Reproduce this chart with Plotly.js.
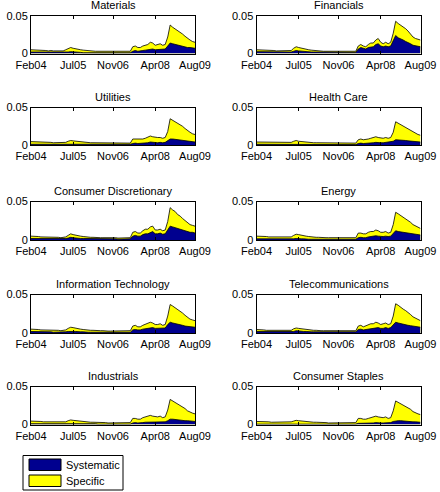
<!DOCTYPE html>
<html>
<head>
<meta charset="utf-8">
<script src="https://cdn.plot.ly/plotly-3.0.1.min.js"></script>
<style>html,body{margin:0;padding:0;background:#fff;}#chart{width:440px;height:492px;}</style>
</head>
<body>
<div id="chart"></div>
<script>
// Values in thousandths (x 0.001), monthly Feb 2004 .. Aug 2009
const UNIT = 0.001;
const nMonths = 67;
const tickDates = ['2004-02-01', '2005-07-01', '2006-11-01', '2008-04-01', '2009-08-01'];
const tickLabels = ['Feb04', 'Jul05', 'Nov06', 'Apr08', 'Aug09'];
const seriesNames = ['Systematic', 'Specific'];
const sectors = ['Materials', 'Financials', 'Utilities', 'Health Care', 'Consumer Discretionary',
  'Energy', 'Information Technology', 'Telecommunications', 'Industrials', 'Consumer Staples'];

// total risk (systematic + specific)
const totalMaterials = [5,5,5,5,4.5,4,4,3.5,4,3.5,3.5, 3.5,3,3.5,5,7,8,7,6,5.5,5,4.5,4, 4,3.5,3.5,3,3,3,2.5,2.5,2.5,2.5,2.5,2.5, 2.5,2.5,3,2.5,2.5,3,9,10,8,8,10,11, 12,15,14,11,12,13,11,12,22,38,35,33, 30,29,26,23,20,18,16,15];
const sysMaterials = [2,2,2,2,1.5,1.5,1.5,1,1.5,1,1, 1,1,1,1.5,2,2.5,2,1.5,1.5,1.5,1,1, 1,1,1,1,1,1,1,1,1,1,1,1, 1,1,1,1,1,1,3,4,3,3,4,4.5, 5,6,6,5,5,6,5,6,10,14,13,12, 11,10,10,9,8,8,7.5,7];

const totalFinancials = [5,5,5,5,4.5,4,4,4,3.5,3.5,3.5, 3.5,3.5,3.5,4,7,9,8,7,6,5.5,5,4.5, 4,4,3.5,3.5,3,3,3,2.5,2.5,2.5,3,3, 2.5,2.5,3,2.5,2.5,3,10,12,10,9,12,14, 14,18,20,15,13,15,13,15,27,43,40,38, 35,33,30,26,22,20,19,18];
const sysFinancials = [2.5,2.5,2.5,2.5,2,2,2,2,2,1.5,1.5, 1.5,1.5,1.5,2,3,4,3.5,3,2.5,2.5,2,2, 2,2,1.5,1.5,1.5,1.5,1.5,1,1,1,1.5,1.5, 1,1,1.5,1,1,1.5,6,8,7,6,8,9, 9,12,13,10,9,10,9,10,18,24,21,20, 18,16,15,13,11,10,10,9];

const totalUtilities = [4.5,4.5,4.5,4,4,3.5,3.5,3.5,3.5,3,3, 3,3,3,3.5,5,6,5.5,5,4.5,4,4,3.5, 3.5,3,3,3,2.5,2.5,2.5,2.5,2,2,2,2, 2,2,2.5,2,2,2.5,8,8,7,7,8,9, 10,12,11,10,10,10,9,10,18,35,33,31, 29,27,25,22,19,17,15,14];
const sysUtilities = [1,1,1,1,1,1,1,1,1,1,1, 1,1,1,1,1.5,1.5,1.5,1,1,1,1,1, 1,1,1,1,1,1,1,1,0.5,0.5,0.5,0.5, 0.5,0.5,1,0.5,0.5,1,2,2.5,2,2,2.5,3, 3,4,3.5,3,3,3.5,3,3.5,6,8,8,7.5, 7,6.5,6,5.5,5,5,4.5,4];

const totalHealthCare = [4,4,4,3.5,3.5,3.5,3,3,3,3,3, 3,3,3,3.5,5,6,5,4.5,4,4,3.5,3.5, 3,3,3,2.5,2.5,2.5,2,2,2,2,2,2, 2,2,2.5,2,2,2.5,7,8,7,7,8,9, 10,11,10,9,9,10,9,10,17,31,29,27, 26,24,22,20,18,16,14,13];
const sysHealthCare = [1,1,1,1,1,1,1,1,1,1,1, 1,1,1,1,1,1.5,1,1,1,1,1,1, 0.5,0.5,0.5,0.5,0.5,0.5,0.5,0.5,0.5,0.5,0.5,0.5, 0.5,0.5,0.5,0.5,0.5,0.5,2,2.5,2,2,2.5,3, 3,3.5,3,3,3,3.5,3,3.5,5,7,7,6.5, 6,6,5.5,5,4.5,4.5,4,4];

const totalConsDisc = [5,5,5,4.5,4,4,4,3.5,3.5,3.5,3.5, 3.5,3,3.5,4,6,8,7,6,5.5,5,4.5,4, 4,3.5,3.5,3,3,3,3,3,3,3.5,3,3, 2.5,2.5,3,2.5,2.5,3,10,11,9,9,12,14, 14,17,18,13,13,14,12,13,24,42,39,37, 33,31,28,25,22,20,19,18];
const sysConsDisc = [2,2,2,2,1.5,1.5,1.5,1.5,1.5,1.5,1.5, 1.5,1.5,1.5,2,2.5,3.5,3,2.5,2.5,2,2,2, 2,1.5,1.5,1.5,1.5,1.5,1.5,1.5,1.5,1.5,1.5,1.5, 1,1,1.5,1,1,1.5,5,6,5,5,7,8, 8,10,11,8,8,9,7.5,8,14,18,17,16, 15,14,13,12,11,10,10,9];

const totalEnergy = [5,5,5,4.5,4.5,4,4,4,3.5,3.5,3.5, 3.5,3.5,3.5,4,6,7.5,7,6,5.5,5,4.5,4, 4,3.5,3.5,3,3,3,3,3,3,2.5,2.5,2.5, 2.5,2.5,3,2.5,2.5,3,9,9,8,8,10,11, 11,13,12,10,10,11,9,10,20,36,34,32, 30,28,26,23,20,18,16,15];
const sysEnergy = [1.5,1.5,1.5,1.5,1,1,1,1,1,1,1, 1,1,1,1,1.5,2,1.5,1.5,1.5,1,1,1, 1,1,1,1,1,1,1,1,1,1,1,1, 1,1,1,1,1,1,3,3.5,3,3,4,4.5, 4.5,5.5,5,4.5,4.5,5,4.5,5,9,12,11,10.5, 10,9.5,9,8.5,8,7.5,7,6.5];

const totalInfoTech = [5,5,5,4.5,4,4,3.5,3.5,3.5,3.5,3.5, 3.5,3,3.5,4,6,7.5,7,6,5.5,5,4.5,4, 4,3.5,3.5,3,3,3,3,2.5,2.5,2.5,2.5,2.5, 2.5,2.5,3,2.5,2.5,3,9,10,8,8,10,11, 12,14,13,11,11,12,10,11,22,37,35,33, 31,29,26,23,20,18,17,16];
const sysInfoTech = [2,2,2,2,1.5,1.5,1.5,1.5,1.5,1,1, 1,1,1,1.5,2,2.5,2,2,1.5,1.5,1.5,1, 1,1,1,1,1,1,1,1,1,1,1,1, 1,1,1,1,1,1,4,4.5,4,4,5,5.5, 6,7,7,6,6,6.5,6,6.5,11,14,13,12, 11,10.5,10,9,8.5,8,8,7.5];

const totalTelecom = [4.5,4.5,4.5,4,3.5,3.5,3,3,3.5,3,3, 3,3,3,3.5,5.5,6.5,6,5.5,5,4.5,4,3.5, 3.5,3.5,3,3,3,3,2.5,2.5,2.5,2.5,2.5,2.5, 2.5,2.5,3,2.5,2.5,3,9,10,8,9,11,12, 12,14,13,11,12,13,11,12,22,38,36,33, 31,29,27,24,21,19,17,16];
const sysTelecom = [2,2,2,2,1.5,1.5,1.5,1.5,1.5,1.5,1.5, 1.5,1.5,1.5,1.5,2,3,2.5,2,2,2,1.5,1.5, 1.5,1.5,1.5,1.5,1.5,1.5,1,1,1,1,1,1, 1,1,1.5,1,1,1.5,4.5,5,4,4.5,5.5,6, 6,7,7,6,6,7,6,7,11,14,13,12, 11,10.5,10,9.5,9,8.5,8,7.5];

const totalIndustrials = [4.5,4.5,4.5,4,4,3.5,3.5,3.5,3,3,3, 3,3,3,3.5,5,6,5.5,5,4.5,4,4,3.5, 3.5,3,3,3,2.5,2.5,2.5,2.5,2,2,2,2, 2,2,2.5,2,2,2.5,8,8,7,7,9,10, 10,12,11,10,10,11,9,10,19,33,31,29, 27,25,23,21,18,16,15,14];
const sysIndustrials = [1,1,1,1,1,1,1,1,1,1,1, 1,1,1,1,1,1.5,1,1,1,1,1,1, 1,1,1,1,0.5,0.5,0.5,0.5,0.5,0.5,0.5,0.5, 0.5,0.5,0.5,0.5,0.5,0.5,2,2.5,2,2,2.5,3, 3,3.5,3,3,3,3.5,3,3.5,5,7,7,6.5, 6,6,5.5,5,5,4.5,4.5,4];

const totalConsStaples = [4,4,4,3.5,3.5,3.5,3,3,3,3,3, 3,3,3,3.5,4.5,5.5,5,4.5,4,4,3.5,3.5, 3,3,3,2.5,2.5,2.5,2,2,2,2,2,2, 2,2,2.5,2,2,2.5,8,8,7,7,8,9, 9,11,10,9,9,10,8,9,18,31,29,28, 26,24,22,20,17,15,14,13];
const sysConsStaples = [0.5,0.5,0.5,0.5,0.5,0.5,0.5,0.5,0.5,0.5,0.5, 0.5,0.5,0.5,0.5,1,1,1,0.5,0.5,0.5,0.5,0.5, 0.5,0.5,0.5,0.5,0.5,0.5,0.5,0.5,0.5,0.5,0.5,0.5, 0.5,0.5,0.5,0.5,0.5,0.5,1.5,1.5,1.5,1.5,2,2, 2,2.5,2,2,2,2.5,2,2.5,4,5,5,5, 4.5,4.5,4,4,3.5,3.5,3,3];

const totals = [totalMaterials, totalFinancials, totalUtilities, totalHealthCare, totalConsDisc,
  totalEnergy, totalInfoTech, totalTelecom, totalIndustrials, totalConsStaples];
const systematics = [sysMaterials, sysFinancials, sysUtilities, sysHealthCare, sysConsDisc,
  sysEnergy, sysInfoTech, sysTelecom, sysIndustrials, sysConsStaples];

// month dates
const dates = [];
for (let i = 0; i < nMonths; i++) {
  const y = 2004 + Math.floor((1 + i) / 12);
  const m = ((1 + i) % 12) + 1;
  dates.push(y + '-' + String(m).padStart(2, '0') + '-01');
}

const W = 440, H = 492;
const colX = [[31, 195], [256.5, 420.5]];
const rowY = [[16, 53.5], [107.5, 145], [201.5, 240], [294.5, 333], [386.5, 424.5]];
const BLUE = '#00008F', YELLOW = '#FFFF00';
const seriesColors = [BLUE, YELLOW];
const FONT = 'Liberation Sans, Arial, Helvetica, sans-serif';

const data = [];
const layout = {
  width: W, height: H,
  margin: {l: 0, r: 0, t: 0, b: 0},
  paper_bgcolor: '#ffffff', plot_bgcolor: '#ffffff',
  showlegend: false,
  font: {family: FONT, size: 11, color: '#000'},
  annotations: [],
  shapes: []
};

sectors.forEach((name, k) => {
  const idx = k + 1;
  const sfx = idx === 1 ? '' : String(idx);
  const col = k % 2, row = Math.floor(k / 2);
  const xd = [colX[col][0] / W, colX[col][1] / W];
  const yd = [1 - rowY[row][1] / H, 1 - rowY[row][0] / H];
  const xa = 'x' + sfx, ya = 'y' + sfx;

  // total (yellow) drawn first, systematic (blue) on top -> stacked look
  data.push({
    type: 'scatter', mode: 'lines', x: dates, y: totals[k].map(v => v * UNIT),
    xaxis: xa, yaxis: ya, fill: 'tozeroy', fillcolor: YELLOW,
    line: {color: '#000', width: 0.8, shape: 'linear'},
    name: seriesNames[1], hoverinfo: 'skip'
  });
  data.push({
    type: 'scatter', mode: 'lines', x: dates, y: systematics[k].map(v => v * UNIT),
    xaxis: xa, yaxis: ya, fill: 'tozeroy', fillcolor: BLUE,
    line: {color: '#000', width: 0.8, shape: 'linear'},
    name: seriesNames[0], hoverinfo: 'skip'
  });

  layout['xaxis' + sfx] = {
    domain: xd, anchor: ya, type: 'date',
    range: [dates[0], dates[nMonths - 1]],
    tickmode: 'array', tickvals: tickDates, ticktext: tickLabels,
    ticks: 'inside', ticklen: 3, tickcolor: '#000', tickwidth: 1,
    ticklabelstandoff: 1,
    showline: true, linecolor: '#000', linewidth: 1, mirror: 'ticks',
    showgrid: false, zeroline: false, fixedrange: true,
    tickfont: {family: FONT, size: 11, color: '#000'}
  };
  layout['yaxis' + sfx] = {
    domain: yd, anchor: xa, range: [0, 0.05],
    tickmode: 'array', tickvals: [0, 0.05], ticktext: ['0', '0.05'],
    ticks: 'inside', ticklen: 3, tickcolor: '#000', tickwidth: 1,
    showline: true, linecolor: '#000', linewidth: 1, mirror: 'ticks',
    showgrid: false, zeroline: false, fixedrange: true,
    tickfont: {family: FONT, size: 11, color: '#000'}
  };
  layout.annotations.push({
    text: name, xref: 'paper', yref: 'paper',
    x: (xd[0] + xd[1]) / 2, y: yd[1], xanchor: 'center', yanchor: 'bottom',
    yshift: 3, showarrow: false, font: {family: FONT, size: 11, color: '#000'}
  });
});

// MATLAB-style legend box (pixel positions converted to paper coords)
const px = v => v / W, py = v => 1 - v / H;
layout.shapes.push({type: 'rect', xref: 'paper', yref: 'paper',
  x0: px(23), x1: px(123), y0: py(490), y1: py(455.5),
  line: {color: '#000', width: 1}, fillcolor: '#fff', layer: 'above'});
const legendRowsY = [[459, 470.5], [475, 486.5]];
seriesNames.forEach((nm, i) => {
  layout.shapes.push({type: 'rect', xref: 'paper', yref: 'paper',
    x0: px(29), x1: px(61), y0: py(legendRowsY[i][1]), y1: py(legendRowsY[i][0]),
    line: {color: '#000', width: 1}, fillcolor: seriesColors[i], layer: 'above'});
  layout.annotations.push({text: nm, xref: 'paper', yref: 'paper',
    x: px(64), y: py((legendRowsY[i][0] + legendRowsY[i][1]) / 2),
    xanchor: 'left', yanchor: 'middle', showarrow: false,
    font: {family: FONT, size: 11, color: '#000'}});
});

Plotly.newPlot('chart', data, layout, {staticPlot: true, displayModeBar: false});
</script>
</body>
</html>
